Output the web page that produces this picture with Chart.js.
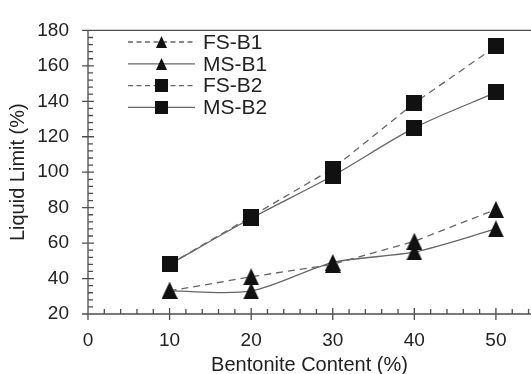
<!DOCTYPE html>
<html>
<head>
<meta charset="utf-8">
<title>Liquid Limit vs Bentonite Content</title>
<script src="https://cdn.jsdelivr.net/npm/chart.js@4.4.1/dist/chart.umd.min.js"></script>
<style>
  html, body { margin: 0; padding: 0; background: #fff; overflow: hidden; }
  #wrap { width: 531px; height: 374px; position: relative; }
</style>
</head>
<body>
<div id="wrap"><canvas id="chart"></canvas></div>
<script>
// bentonite content (%) and liquid limit (%) per mix
const bentonite = [10, 20, 30, 40, 50]
const fsB1 = [33, 41, 48, 61, 79]
const msB1 = [33, 33, 49, 55, 68]
const fsB2 = [48, 75, 102, 139, 171]
const msB2 = [48, 74, 98, 125, 145]

const xTicks = [0, 10, 20, 30, 40, 50]
const yTicks = [20, 40, 60, 80, 100, 120, 140, 160, 180]

const FONT = '"Liberation Sans", Arial, sans-serif'
const AXIS = '#4d4d4d'
const LINE = '#666'
const INK = '#111'
const TEXT = '#222'

function marker (shape, w, h) {
  const c = document.createElement('canvas')
  c.width = w
  c.height = h
  const g = c.getContext('2d')
  g.fillStyle = INK
  g.beginPath()
  if (shape === 'triangle') {
    g.moveTo(w / 2, 0)
    g.lineTo(w, h)
    g.lineTo(0, h)
  } else {
    g.rect(0, 0, w, h)
  }
  g.closePath()
  g.fill()
  return c
}

const tri = marker('triangle', 16, 17)
const sq = marker('square', 16, 16)
const triSmall = marker('triangle', 11, 12)
const sqSmall = marker('square', 13, 13)

function series (label, values, opts) {
  return Object.assign({
    label,
    data: bentonite.map((x, i) => ({ x, y: values[i] })),
    borderColor: LINE,
    borderWidth: 1.3,
    pointRadius: 8,
    pointHoverRadius: 8,
    fill: false
  }, opts)
}

// axes, top rule and tick marks (major ticks cross the axis, minor sit inside)
const frame = {
  id: 'frame',
  beforeDatasetsDraw (chart) {
    const { ctx, chartArea: a, scales: { x, y } } = chart
    ctx.save()
    ctx.strokeStyle = AXIS
    ctx.lineWidth = 1.3
    ctx.beginPath()
    ctx.moveTo(a.left, a.top)
    ctx.lineTo(a.right, a.top)
    ctx.moveTo(a.left, a.top)
    ctx.lineTo(a.left, a.bottom + 6)
    ctx.moveTo(a.left - 6, a.bottom)
    ctx.lineTo(a.right, a.bottom)
    for (let v = 20; v <= 180; v += 4) {
      const py = y.getPixelForValue(v)
      const major = v % 20 === 0
      ctx.moveTo(a.left - (major ? 6 : 0), py)
      ctx.lineTo(a.left + (major ? 6 : 5), py)
    }
    for (let v = 0; v <= x.max; v += 2) {
      const px = x.getPixelForValue(v)
      const major = v % 10 === 0
      ctx.moveTo(px, a.bottom + (major ? 6 : 0))
      ctx.lineTo(px, a.bottom - (major ? 6 : 5))
    }
    ctx.stroke()
    ctx.restore()
  }
}

const legendBox = {
  id: 'legendBox',
  afterDatasetsDraw (chart) {
    const ctx = chart.ctx
    chart.data.datasets.forEach((ds, i) => {
      const y = 42 + i * 21.8
      ctx.save()
      ctx.strokeStyle = ds.borderColor
      ctx.lineWidth = ds.borderWidth
      ctx.setLineDash(ds.borderDash ? [5, 3.5] : [])
      ctx.beginPath()
      ctx.moveTo(128, y)
      ctx.lineTo(195, y)
      ctx.stroke()
      const m = ds.legendMarker
      ctx.drawImage(m, Math.round(161 - m.width / 2), Math.round(y - m.height / 2))
      ctx.fillStyle = TEXT
      ctx.font = '21px ' + FONT
      ctx.textBaseline = 'middle'
      ctx.fillText(ds.label, 203, y + 1)
      ctx.restore()
    })
  }
}

new Chart(document.getElementById('chart'), {
  type: 'line',
  data: {
    datasets: [
      series('FS-B1', fsB1, { borderDash: [7, 5], pointStyle: tri, legendMarker: triSmall, tension: 0 }),
      series('MS-B1', msB1, { pointStyle: tri, legendMarker: triSmall, tension: 0.3 }),
      series('FS-B2', fsB2, { borderDash: [7, 5], pointStyle: sq, legendMarker: sqSmall, tension: 0 }),
      series('MS-B2', msB2, { pointStyle: sq, legendMarker: sqSmall, tension: 0.3 })
    ]
  },
  options: {
    responsive: true,
    maintainAspectRatio: false,
    animation: false,
    layout: { autoPadding: false, padding: { top: 17, right: 0, bottom: 0, left: 0 } },
    plugins: {
      legend: { display: false },
      tooltip: { enabled: false }
    },
    scales: {
      x: {
        type: 'linear',
        min: 0,
        max: 54.3,
        grid: { display: false, drawTicks: false },
        border: { display: false },
        afterBuildTicks: s => { s.ticks = xTicks.map(v => ({ value: v })) },
        afterFit: s => { s.height = 60 },
        ticks: { padding: 15, color: TEXT, font: { family: FONT, size: 19 } },
        title: {
          display: true,
          text: 'Bentonite Content (%)',
          color: TEXT,
          font: { family: FONT, size: 20 },
          padding: { top: 0, bottom: -3 }
        }
      },
      y: {
        min: 20,
        max: 180,
        grid: { display: false, drawTicks: false },
        border: { display: false },
        afterBuildTicks: s => { s.ticks = yTicks.map(v => ({ value: v })) },
        afterFit: s => { s.width = 88 },
        ticks: { padding: 19, color: TEXT, font: { family: FONT, size: 19 } },
        title: {
          display: true,
          text: 'Liquid Limit (%)',
          color: TEXT,
          font: { family: FONT, size: 20 },
          padding: { top: 6, bottom: 0 }
        }
      }
    }
  },
  plugins: [frame, legendBox]
})
</script>
</body>
</html>
